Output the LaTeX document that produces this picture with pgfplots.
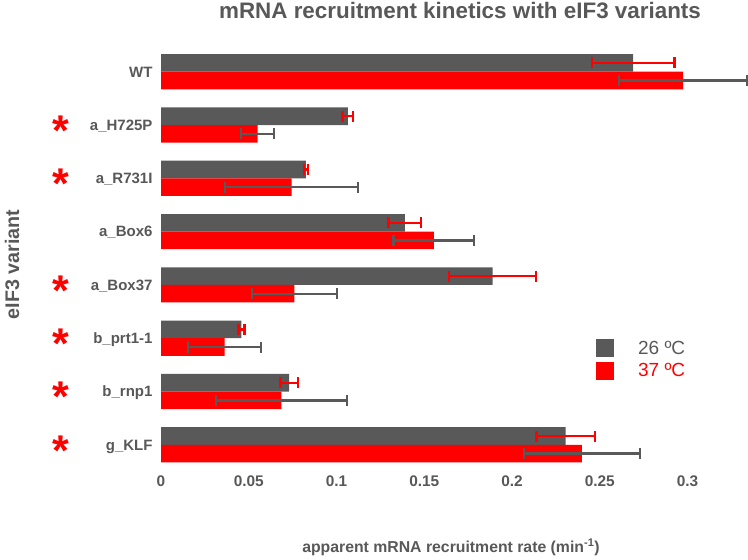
\documentclass[border=0pt]{standalone}
\usepackage{pgfplots}
\pgfplotsset{compat=1.18}
\usepackage{fontspec}
\setmainfont{Liberation Sans}

\definecolor{barGray}{RGB}{89,89,89}
\definecolor{txtGray}{RGB}{88,88,88}
\definecolor{barRed}{RGB}{255,0,0}

% category label with an optional red asterisk to the left
\newcommand{\redast}{\makebox[0pt][c]{\smash{\raisebox{-15bp}{\fontsize{43bp}{43bp}\selectfont\textcolor{barRed}{*}}}}}
\newcommand{\lab}[2]{#1\hspace{91.2bp}\llap{#2}}

\begin{document}
\begin{tikzpicture}
\begin{axis}[
    at={(161bp,88.55bp)}, anchor=south west,
    scale only axis,
    width=587bp, height=426.4bp,
    xbar, bar width=0.33,
    xmin=0, xmax=0.33447,
    ymin=-0.5, ymax=7.5,
    y dir=reverse,
    axis line style={draw=none},
    major tick length=0pt,
    xtick={0,0.05,0.1,0.15,0.2,0.25,0.3},
    xticklabels={0,0.05,0.1,0.15,0.2,0.25,0.3},
    ytick={0,...,7},
    yticklabels={
        {\lab{}{WT}},
        {\lab{\redast}{a\_H725P}},
        {\lab{\redast}{a\_R731I}},
        {\lab{}{a\_Box6}},
        {\lab{\redast}{a\_Box37}},
        {\lab{\redast}{b\_prt1-1}},
        {\lab{\redast}{b\_rnp1}},
        {\lab{\redast}{g\_KLF}}},
    xticklabel style={font=\fontsize{15.4bp}{18bp}\selectfont\bfseries, text=txtGray,
        anchor=center, yshift=-10bp, inner sep=0pt},
    yticklabel style={font=\fontsize{15bp}{18bp}\selectfont\bfseries, text=txtGray,
        anchor=east, xshift=-8.3bp, inner sep=0pt, text height=10.7bp, text depth=0pt},
    title={mRNA recruitment kinetics with eIF3 variants},
    title style={font=\fontsize{22.4bp}{26bp}\selectfont\bfseries, text=txtGray,
        at={(axis description cs:0.5094,1.068)}, anchor=center, inner sep=0pt},
    xlabel={apparent mRNA recruitment rate (min\textsuperscript{-1})},
    xlabel style={font=\fontsize{15.8bp}{18bp}\selectfont\bfseries, text=txtGray,
        at={(axis description cs:0.494,-0.1912)}, anchor=base, inner sep=0pt},
    ylabel={eIF3 variant},
    ylabel style={font=\fontsize{19.7bp}{22bp}\selectfont\bfseries, text=txtGray,
        at={(axis description cs:-0.2538,0.4853)}, anchor=center, inner sep=0pt},
    legend style={at={(axis description cs:0.741,0.3106)}, anchor=north west,
        draw=none, fill=none, inner sep=0pt, row sep=4.5bp,
        font=\fontsize{19bp}{22bp}\selectfont,
        nodes={inner sep=0pt},
        /tikz/every odd column/.append style={column sep=24bp}},
    legend cell align=left,
    legend image code/.code={\fill[#1] (0bp,-9bp) rectangle (18bp,9bp);},
    error bars/x dir=both, error bars/x explicit,
]
\addplot[fill=barGray, draw=none, bar shift=-0.165,
    error bars/error bar style={barRed, line width=2.4bp},
    error bars/error mark options={barRed, line width=2.4bp, mark size=5.5bp, rotate=90}]
coordinates {
    (0.2690,0) +- (0.0235,0)
    (0.1065,1) +- (0.0030,0)
    (0.0826,2) +- (0.0010,0)
    (0.1390,3) +- (0.0093,0)
    (0.1890,4) +- (0.0248,0)
    (0.0458,5) +- (0.0017,0)
    (0.0730,6) +- (0.0050,0)
    (0.2306,7) +- (0.0167,0)
};
\addlegendentry{\textcolor{barGray}{26 ºC}}
\addplot[fill=barRed, draw=none, bar shift=0.165,
    error bars/error bar style={barGray, line width=2.4bp},
    error bars/error mark options={barGray, line width=2.4bp, mark size=5.5bp, rotate=90}]
coordinates {
    (0.2975,0) +- (0.0365,0)
    (0.0550,1) +- (0.0095,0)
    (0.0744,2) +- (0.0380,0)
    (0.1555,3) +- (0.0230,0)
    (0.0760,4) +- (0.0243,0)
    (0.0362,5) +- (0.0207,0)
    (0.0686,6) +- (0.0373,0)
    (0.2398,7) +- (0.0331,0)
};
\addlegendentry{\textcolor{barRed}{37 ºC}}
\end{axis}
\pgfresetboundingbox
\useasboundingbox (0,0) rectangle (748bp,560bp);
\end{tikzpicture}
\end{document}
